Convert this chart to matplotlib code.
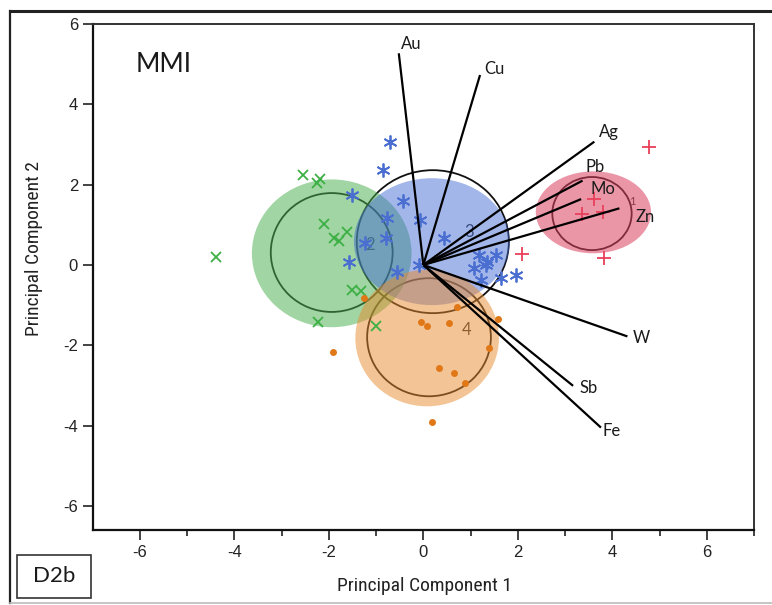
import matplotlib
matplotlib.use("Agg")
import matplotlib.pyplot as plt
from matplotlib.patches import Ellipse, Rectangle
from matplotlib.lines import Line2D
import matplotlib.font_manager as fm

# ---------------- data ----------------
g_x = [-4.40, -2.54, -2.18, -2.25, -2.11, -1.62, -1.90, -1.79, -1.51, -1.33, -2.22, -1.01]
g_y = [0.21, 2.24, 2.13, 2.05, 1.02, 0.83, 0.66, 0.60, -0.62, -0.66, -1.41, -1.53]

b_x = [-0.70, -0.85, -1.52, -0.44, -0.78, -0.08, 0.44, -0.80, -1.23, -1.57, -0.56, -0.10,
       1.18, 1.35, 1.53, 1.07, 1.32, 1.96, 1.64, 1.21]
b_y = [3.07, 2.36, 1.74, 1.59, 1.16, 1.11, 0.66, 0.66, 0.54, 0.08, -0.17, 0.0,
       0.25, 0.08, 0.25, -0.08, 0.0, -0.25, -0.33, -0.37]

o_x = [-1.92, -1.26, -0.06, 0.08, 0.54, 0.72, 1.59, 1.38, 0.33, 0.65, 0.88, 0.19]
o_y = [-2.18, -0.83, -1.41, -1.52, -1.44, -1.04, -1.35, -2.07, -2.57, -2.69, -2.93, -3.92]

r_x = [4.77, 3.62, 3.36, 3.81, 2.08, 3.83]
r_y = [2.94, 1.64, 1.26, 1.31, 0.27, 0.17]

elements = ["Au", "Cu", "Ag", "Pb", "Mo", "Zn", "W", "Sb", "Fe"]
load_x = [-0.52, 1.20, 3.62, 3.37, 3.34, 4.15, 4.32, 3.17, 3.76]
load_y = [5.27, 4.73, 3.07, 2.10, 1.64, 1.41, -1.78, -3.01, -4.05]

cluster_ids = ["1", "2", "3", "4"]
# shaded ellipses: centre x, centre y, half-width, half-height
fill_cx = [3.60, -1.94, 0.18, 0.08]
fill_cy = [1.31, 0.29, 0.58, -1.82]
fill_hw = [1.22, 1.69, 1.65, 1.52]
fill_hh = [1.02, 1.84, 1.58, 1.70]
# black outline ellipses
ring_cx = [3.57, -1.94, 0.20, 0.12]
ring_cy = [1.28, 0.31, 0.58, -1.80]
ring_hw = [0.84, 1.29, 1.61, 1.31]
ring_hh = [0.91, 1.48, 1.78, 1.47]
# cluster number labels
lab_x = [4.42, -1.12, 0.97, 0.91]
lab_y = [1.59, 0.50, 0.82, -1.63]

x_ticks = [-6, -4, -2, 0, 2, 4, 6]
y_ticks = [-6, -4, -2, 0, 2, 4, 6]

# ---------------- style ----------------
avail = {f.name for f in fm.fontManager.ttflist}
def fam(*names):
    lst = [n for n in names if n in avail]
    return lst + ["DejaVu Sans"]

tick_font = fam("Liberation Sans", "Arial")
label_font = fam("Liberation Sans Narrow", "Roboto Condensed", "Liberation Sans")
text_font = fam("Lato", "Open Sans", "Noto Sans")

fill_cols = ["#dc4060", "#4cb050", "#4068d4", "#e88a2c"]
fill_alpha = [0.55, 0.52, 0.48, 0.5]
mark_cols = {"g": "#3cb044", "b": "#4a6fd0", "o": "#e07818", "r": "#e8405a"}

fig = plt.figure(figsize=(7.72, 6.05), dpi=100)
ax = fig.add_axes([92.7 / 772, 1 - 530 / 605, (754 - 92.7) / 772, (530 - 24) / 605])

# cluster labels underneath fills
for t, x, y in zip(cluster_ids, lab_x, lab_y):
    ax.text(x, y, t, fontsize=12 if t != "1" else 8, color="#333333", ha="center", va="center",
            family=text_font, zorder=1)

# black rings (under fills)
for cx, cy, hw, hh in zip(ring_cx, ring_cy, ring_hw, ring_hh):
    ax.add_patch(Ellipse((cx, cy), 2 * hw, 2 * hh, fill=False, edgecolor="#111111",
                         lw=1.3, zorder=2))

# fills: green, blue, orange, red order
for i in [1, 2, 3, 0]:
    ax.add_patch(Ellipse((fill_cx[i], fill_cy[i]), 2 * fill_hw[i], 2 * fill_hh[i],
                         facecolor=fill_cols[i], edgecolor="none", alpha=fill_alpha[i], zorder=3))

ax.plot(g_x, g_y, ls="none", marker="x", ms=7, mew=1.3, color=mark_cols["g"], zorder=4)
ax.plot(b_x, b_y, ls="none", marker=(6, 2, 0), ms=10, mew=1.3, color=mark_cols["b"], zorder=4)
ax.plot(o_x, o_y, ls="none", marker="o", ms=5, mew=0, color=mark_cols["o"], zorder=4)
ax.plot(r_x, r_y, ls="none", marker="+", ms=10, mew=1.3, color=mark_cols["r"], zorder=4)

# loading vectors
label_off = {"Au": (12, 9), "Cu": (14, 6), "Ag": (15, 10), "Pb": (13, 14), "Mo": (22, 10),
             "Zn": (26, -9), "W": (14, -2), "Sb": (16, -2), "Fe": (11, -3)}
for name, lx, ly in zip(elements, load_x, load_y):
    ax.plot([0, lx], [0, ly], color="black", lw=1.6, zorder=5, solid_capstyle="butt")
    ax.annotate(name, (lx, ly), xytext=label_off[name], textcoords="offset pixels",
                ha="center", va="center", fontsize=12, color="#1a1a1a", family=text_font,
                zorder=6)

ax.text(-6.1, 4.98, "MMI", fontsize=19, ha="left", va="center", color="#1a1a1a",
        family=text_font)

ax.set_xlim(-7, 7)
ax.set_ylim(-6.6, 6.0)
ax.set_xticks(x_ticks)
ax.set_xticks([-5, -3, -1, 1, 3, 5, 7], minor=True)
ax.set_yticks(y_ticks)
ax.tick_params(axis="both", which="major", direction="out", length=7, width=1.2,
               labelsize=12, colors="#222222")
ax.tick_params(axis="x", which="minor", direction="out", length=4, width=1.2, colors="#222222")
ax.tick_params(top=False, right=False)
ax.set_xticklabels([str(v) for v in x_ticks], family=tick_font)
ax.set_yticklabels([str(v) for v in y_ticks], family=tick_font)
for side in ["left", "bottom"]:
    ax.spines[side].set_linewidth(1.6)
    ax.spines[side].set_color("#111111")
for side in ["top", "right"]:
    ax.spines[side].set_linewidth(1.4)
    ax.spines[side].set_color("#333333")

ax.set_xlabel("Principal Component 1", fontsize=14, color="#222222", family=label_font)
ax.set_ylabel("Principal Component 2", fontsize=14, color="#222222", family=label_font)
ax.xaxis.set_label_coords(0.501, -0.093)
ax.yaxis.set_label_coords(-0.075, 0.557)

# figure frame
fig.add_artist(Line2D([10 / 772, 1], [1 - 11 / 605, 1 - 11 / 605], transform=fig.transFigure,
                      color="#222222", lw=2.2))
fig.add_artist(Line2D([10 / 772, 10 / 772], [2 / 605, 1 - 11 / 605], transform=fig.transFigure,
                      color="#222222", lw=1.6))
fig.add_artist(Line2D([10 / 772, 1], [2 / 605, 2 / 605], transform=fig.transFigure,
                      color="#bbbbbb", lw=1.2))

# D2b box
fig.add_artist(Rectangle((17 / 772, 7 / 605), 74 / 772, 43 / 605, transform=fig.transFigure,
                         fill=False, edgecolor="#333333", lw=1.2))
fig.text(54 / 772, 28.5 / 605, "D2b", fontsize=16, ha="center", va="center",
         color="#1a1a1a", family=text_font)

fig.savefig("out.png", dpi=100)
